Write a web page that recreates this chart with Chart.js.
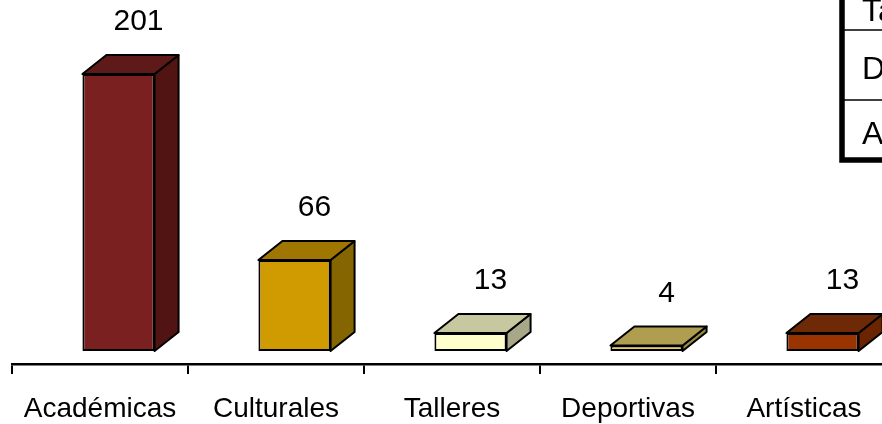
<!DOCTYPE html>
<html>
<head>
<meta charset="utf-8">
<script src="https://cdn.jsdelivr.net/npm/chart.js@4"></script>
<style>
  body { margin: 0; background: #fff; }
  .wrap { width: 882px; height: 424px; overflow: hidden; position: relative; }
  canvas { display: block; }
</style>
</head>
<body>
<div class="wrap">
  <canvas id="graficoActividades" width="900" height="424"></canvas>
</div>
<script>
const categorias = ['Académicas', 'Culturales', 'Talleres', 'Deportivas', 'Artísticas'];
const valores = [201, 66, 13, 4, 13];

// colores de cada caja: frente, tapa y lateral
const colorFrente = ['#7A2020', '#CF9B00', '#FFFFCC', '#EAC95E', '#993300'];
const colorTapa = ['#5E1A18', '#9E7600', '#C8C8A0', '#B09E50', '#6E2A06'];
const colorLado = ['#521412', '#856500', '#A8A888', '#9A8A40', '#6B2400'];

const FONDO_X = 24, FONDO_Y = -19; // profundidad de la caja
const DESPLAZA = 18.5;             // la caja se ve corrida por la perspectiva

Chart.defaults.font.family = "'Liberation Sans', Arial, sans-serif";
Chart.defaults.color = '#000';

function bordeCaja(ctx) {
    ctx.strokeStyle = '#000';
    ctx.lineWidth = 2;
    ctx.lineJoin = 'round';
}

// tapa y lateral de cada barra, luego el frente lo pinta Chart.js
const cajas3d = {
    id: 'cajas3d',
    beforeDatasetsDraw(chart) {
        const ctx = chart.ctx;
        const meta = chart.getDatasetMeta(0);
        ctx.save();
        meta.data.forEach((bar, i) => {
            const L = bar.x - bar.width / 2 + DESPLAZA;
            const R = bar.x + bar.width / 2 + DESPLAZA;
            const T = bar.y, B = bar.base;
            bordeCaja(ctx);
            // lateral
            ctx.beginPath();
            ctx.moveTo(R, T);
            ctx.lineTo(R + FONDO_X, T + FONDO_Y);
            ctx.lineTo(R + FONDO_X, B + FONDO_Y);
            ctx.lineTo(R, B);
            ctx.closePath();
            ctx.fillStyle = colorLado[i];
            ctx.fill();
            ctx.stroke();
            // tapa
            ctx.beginPath();
            ctx.moveTo(L, T);
            ctx.lineTo(R, T);
            ctx.lineTo(R + FONDO_X, T + FONDO_Y);
            ctx.lineTo(L + FONDO_X, T + FONDO_Y);
            ctx.closePath();
            ctx.fillStyle = colorTapa[i];
            ctx.fill();
            ctx.stroke();
        });
        ctx.restore();
        ctx.save();
        ctx.translate(DESPLAZA, 0);
    },
    afterDatasetsDraw(chart) {
        const ctx = chart.ctx;
        ctx.restore();
        const meta = chart.getDatasetMeta(0);
        ctx.save();
        ctx.font = "30px 'Liberation Sans', Arial, sans-serif";
        ctx.fillStyle = '#000';
        ctx.textAlign = 'center';
        ctx.textBaseline = 'middle';
        meta.data.forEach((bar, i) => {
            ctx.fillText(String(valores[i]), bar.x + DESPLAZA + 20, bar.y - 52);
        });
        ctx.restore();
    }
};

// leyenda en tabla, pegada al borde derecho
const leyendaTabla = {
    id: 'leyendaTabla',
    afterDraw(chart) {
        const ctx = chart.ctx;
        const izq = 842, abajo = 160;
        const altos = [70, 70, 46, 70, 60];
        const filas = [];
        let fin = abajo;
        for (let i = categorias.length - 1; i >= 0; i--) {
            filas.unshift({ txt: categorias[i], top: fin - altos[i], bottom: fin });
            fin -= altos[i];
        }
        ctx.save();
        ctx.fillStyle = '#fff';
        ctx.fillRect(izq, fin - 10, 100, abajo - fin + 10);
        ctx.font = "32px 'Liberation Sans', Arial, sans-serif";
        ctx.fillStyle = '#000';
        ctx.textAlign = 'left';
        ctx.textBaseline = 'middle';
        filas.forEach((f, i) => {
            ctx.fillText(f.txt, 862, (f.top + f.bottom) / 2 + 5);
            if (i < filas.length - 1) {
                ctx.beginPath();
                ctx.lineWidth = 1.5;
                ctx.strokeStyle = '#000';
                ctx.moveTo(izq, f.bottom);
                ctx.lineTo(izq + 100, f.bottom);
                ctx.stroke();
            }
        });
        ctx.lineWidth = 5.5;
        ctx.beginPath();
        ctx.moveTo(izq, fin - 10);
        ctx.lineTo(izq, abajo);
        ctx.lineTo(izq + 100, abajo);
        ctx.stroke();
        ctx.restore();
    }
};

const ctx = document.getElementById('graficoActividades').getContext('2d');

new Chart(ctx, {
    type: 'bar',
    data: {
        labels: categorias,
        datasets: [{
            label: 'Actividades',
            data: valores,
            backgroundColor: colorFrente,
            borderColor: '#000',
            borderWidth: 2,
            borderSkipped: false,
            barPercentage: 0.41,
            categoryPercentage: 1
        }]
    },
    options: {
        responsive: false,
        animation: false,
        layout: { padding: { left: 12, right: 8, top: 0, bottom: 0 } },
        scales: {
            y: {
                display: false,
                min: -9.43, // el piso 3D queda por encima del eje
                max: 254.7
            },
            x: {
                offset: true,
                grid: {
                    offset: true,
                    drawOnChartArea: false,
                    color: '#000',
                    lineWidth: 2,
                    tickLength: 10
                },
                border: { color: '#000', width: 2.5 },
                ticks: {
                    font: { size: 28 },
                    color: '#000',
                    padding: 18,
                    maxRotation: 0,
                    autoSkip: false
                },
                afterFit(scale) { scale.height = 60; }
            }
        },
        plugins: {
            legend: { display: false },
            tooltip: { enabled: false }
        }
    },
    plugins: [cajas3d, leyendaTabla]
});
</script>
</body>
</html>
